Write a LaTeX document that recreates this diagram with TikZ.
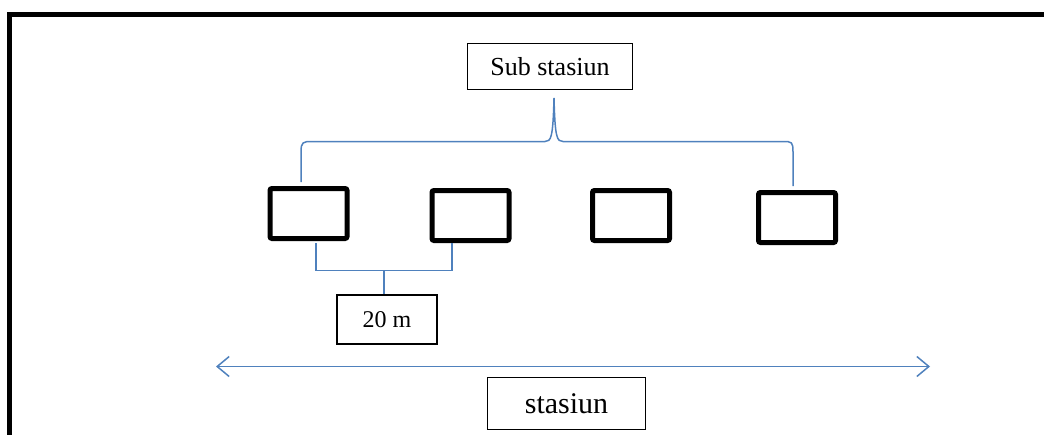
\documentclass[tikz,border=0pt]{standalone}
\usepackage{fontspec}
\setmainfont{Liberation Serif}
\usetikzlibrary{arrows.meta}
\definecolor{lineblue}{RGB}{79,129,189}
\begin{document}
\begin{tikzpicture}[x=1pt,y=-1pt,
  plot/.style={draw=black,line width=5pt,rounded corners=2pt,minimum width=77pt,minimum height=50pt,inner sep=0pt},
  labelbox/.style={draw=black,line width=1.5pt,inner sep=0pt},
  bluel/.style={draw=lineblue,line width=1.5pt},
  frame/.style={draw=black,line width=5pt}]
\useasboundingbox (0,0) rectangle (1044,434);
% outer frame (only left and top edges are visible)
\draw[frame] (9.5,440) -- (9.5,14.5) -- (1050,14.5);
% nodes
\node[labelbox,minimum width=165pt,minimum height=46pt,font=\fontsize{26}{28}\selectfont] (sub) at (550,66.5) {Sub stasiun};
\node[plot] (p1) at (308.5,213.5) {};
\node[plot] (p2) at (470.5,215.5) {};
\node[plot] (p3) at (631,215.5) {};
\node[plot] (p4) at (797,217.5) {};
\node[labelbox,minimum width=100pt,minimum height=49pt,font=\fontsize{24}{26}\selectfont] (dist) at (387,319.5) {20 m};
\node[labelbox,minimum width=158pt,minimum height=52pt,font=\fontsize{30}{32}\selectfont] (st) at (566.5,403.5) {stasiun};
% big brace from sub stasiun to plots
\coordinate (peak) at (554,98);
\draw[bluel] (p1.north -| 301,0) ++(0,-4) -- (301,152) .. controls (301,142) and (303,141.5) .. (312,141.5)
  -- (545,141.5) .. controls (551,141.5) and (553,138) .. (peak)
  .. controls (555,138) and (557,141.5) .. (563,141.5)
  -- (783,141.5) .. controls (792,141.5) and (793,142) .. (793,152) -- (793,186);
% small brace below plots 1 and 2
\coordinate (b1) at (316,243);
\coordinate (b2) at (452,243);
\draw[bluel] (b1) -- (316,270.5) -- (452,270.5) -- (b2);
\draw[bluel] (384,270.5) -- (dist.north -| 384,0);
% station arrow
\coordinate (aL) at (216,366.5);
\coordinate (aR) at (930,366.5);
\draw[bluel,{Straight Barb[length=12pt,width=20pt,line width=1.5pt]}-{Straight Barb[length=12pt,width=20pt,line width=1.5pt]}] (aL) -- (aR);
\end{tikzpicture}
\end{document}
